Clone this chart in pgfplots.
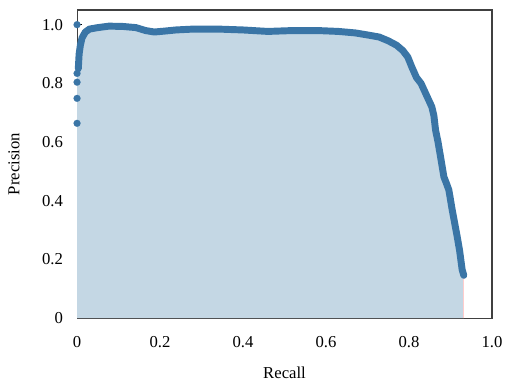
\documentclass[border=0pt]{standalone}
\usepackage{pgfplots}
\pgfplotsset{compat=1.18}
\usepackage{fontspec}
\setmainfont{Liberation Serif}
\usetikzlibrary{calc}
\definecolor{curveblue}{RGB}{58,117,166}
\definecolor{fillblue}{RGB}{196,215,228}
\pgfplotstableread{
r p
0.003 0.850
0.005 0.900
0.008 0.930
0.012 0.955
0.020 0.975
0.030 0.985
0.050 0.990
0.077 0.995
0.110 0.994
0.142 0.990
0.165 0.980
0.186 0.975
0.210 0.978
0.238 0.982
0.280 0.985
0.340 0.985
0.400 0.982
0.460 0.977
0.520 0.980
0.580 0.980
0.630 0.977
0.670 0.972
0.700 0.965
0.728 0.958
0.750 0.945
0.770 0.930
0.785 0.912
0.797 0.890
0.807 0.855
0.818 0.820
0.829 0.800
0.842 0.760
0.855 0.720
0.860 0.690
0.864 0.641
0.870 0.600
0.876 0.550
0.884 0.482
0.890 0.460
0.896 0.437
0.904 0.370
0.916 0.279
0.922 0.230
0.928 0.166
0.932 0.146
}\prcurve
\begin{document}
\begin{tikzpicture}
\begin{axis}[
  scale only axis,
  width=311pt, height=231pt,
  xmin=0, xmax=1, ymin=0, ymax=1.05,
  xtick={0,0.2,0.4,0.6,0.8,1.0},
  xticklabels={0,0.2,0.4,0.6,0.8,1.0},
  ytick={0,0.2,0.4,0.6,0.8,1.0},
  yticklabels={0,0.2,0.4,0.6,0.8,1.0},
  tick align=inside,
  xtick pos=bottom, ytick pos=left,
  major tick length=4pt,
  tick style={black, line width=0.8pt},
  axis line style={line width=0.8pt, black!75},
  tick label style={font=\fontsize{12.5}{14}\selectfont},
  xticklabel shift=10pt,
  yticklabel shift=7pt,
  label style={font=\fontsize{12.5}{14}\selectfont},
  xlabel={Recall}, ylabel={Precision},
  xlabel style={yshift=-8pt},
  ylabel style={yshift=10pt},
  clip=false,
]
\addplot[fill=fillblue, draw=none] coordinates {
(0,0) (0,0.85) (0.003,0.850) (0.005,0.900) (0.008,0.930) (0.012,0.955) (0.020,0.975) (0.030,0.985) (0.050,0.990) (0.077,0.995) (0.110,0.994) (0.142,0.990) (0.165,0.980) (0.186,0.975) (0.210,0.978) (0.238,0.982) (0.280,0.985) (0.340,0.985) (0.400,0.982) (0.460,0.977) (0.520,0.980) (0.580,0.980) (0.630,0.977) (0.670,0.972) (0.700,0.965) (0.728,0.958) (0.750,0.945) (0.770,0.930) (0.785,0.912) (0.797,0.890) (0.807,0.855) (0.818,0.820) (0.829,0.800) (0.842,0.760) (0.855,0.720) (0.860,0.690) (0.864,0.641) (0.870,0.600) (0.876,0.550) (0.884,0.482) (0.890,0.460) (0.896,0.437) (0.904,0.370) (0.916,0.279) (0.922,0.230) (0.928,0.166) (0.932,0.146) (0.932,0)
} -- cycle;
\addplot[draw=red!20, line width=0.8pt] coordinates {(0.932,0) (0.932,0.146)};
\addplot[draw=curveblue, line width=5.2pt, line join=round, line cap=round, no marks] table[x=r,y=p] {\prcurve};
\addplot[only marks, mark=*, mark size=2.6pt, color=curveblue, mark options={solid, fill=curveblue, draw=curveblue, line width=0.1pt}] coordinates {
(0,1.0) (0,0.664) (0,0.749) (0,0.804) (0,0.834)
};
\end{axis}
\pgfresetboundingbox
\path ($(current axis.south west)+(-57.75pt,-47.25pt)$) rectangle ($(current axis.north east)+(9.75pt,7.5pt)$);
\end{tikzpicture}
\end{document}
